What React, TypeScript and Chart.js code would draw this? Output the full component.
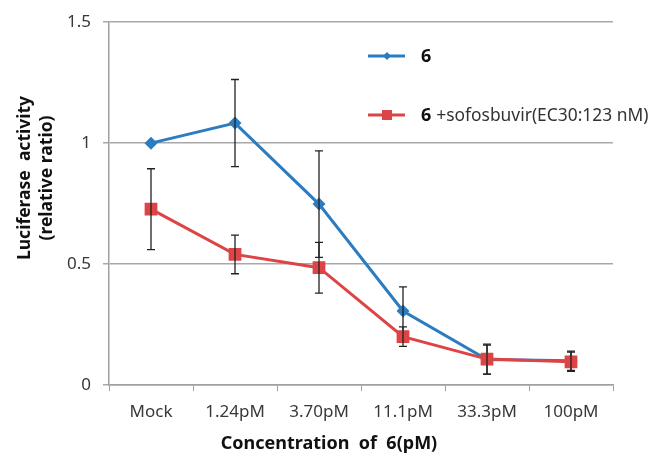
import React, { useEffect, useRef } from "react";
import { Chart, registerables } from "chart.js";

Chart.register(...registerables);

const categories = ["Mock", "1.24pM", "3.70pM", "11.1pM", "33.3pM", "100pM"];
const seriesA = [1.0, 1.083, 0.748, 0.306, 0.105, 0.1];
const errorsA = [0, 0.18, 0.22, 0.1, 0.06, 0.04];
const seriesB = [0.727, 0.54, 0.485, 0.2, 0.107, 0.096];
const errorsB = [0.167, 0.08, 0.105, 0.04, 0.062, 0.04];
const yTicks = [0, 0.5, 1, 1.5];
const labelA = "6";
const labelB = "+sofosbuvir(EC30:123 nM)";
const yTitle = ["Luciferase  activity", "(relative ratio)"];
const xTitle = "Concentration  of  6(pM)";

const BLUE = "#2b7cc0";
const RED = "#dc4446";
const FONT = "'Noto Sans', sans-serif";

const errorPlugin = {
  id: "errbars",
  afterDatasetDraw(chart: any, args: any) {
    const ds = chart.data.datasets[args.index];
    const errs: number[] = ds.errors;
    if (!errs) return;
    const ctx = chart.ctx;
    const x = chart.scales.x;
    const y = chart.scales.y;
    ctx.save();
    ctx.strokeStyle = "#222";
    ctx.lineWidth = 1.3;
    ds.data.forEach((v: number, i: number) => {
      const e = errs[i];
      if (!e) return;
      const px = x.getPixelForValue(i);
      const top = y.getPixelForValue(v + e);
      const bot = y.getPixelForValue(v - e);
      ctx.beginPath();
      ctx.moveTo(px, top);
      ctx.lineTo(px, bot);
      ctx.moveTo(px - 4, top);
      ctx.lineTo(px + 4, top);
      ctx.moveTo(px - 4, bot);
      ctx.lineTo(px + 4, bot);
      ctx.stroke();
    });
    ctx.restore();
  },
};

const textPlugin = {
  id: "texts",
  afterDraw(chart: any) {
    const ctx = chart.ctx;
    ctx.save();
    const drawEntry = (yy: number, color: string, style: string) => {
      ctx.strokeStyle = color;
      ctx.lineWidth = 3;
      ctx.beginPath();
      ctx.moveTo(368, yy);
      ctx.lineTo(405, yy);
      ctx.stroke();
      ctx.fillStyle = color;
      ctx.beginPath();
      if (style === "diamond") {
        ctx.moveTo(387, yy - 4);
        ctx.lineTo(391, yy);
        ctx.lineTo(387, yy + 4);
        ctx.lineTo(383, yy);
      } else {
        ctx.rect(382, yy - 5, 10, 10);
      }
      ctx.closePath();
      ctx.fill();
    };
    drawEntry(56, BLUE, "diamond");
    drawEntry(115, RED, "rect");
    ctx.fillStyle = "#111";
    ctx.textBaseline = "middle";
    ctx.textAlign = "left";
    ctx.font = `bold 18px ${FONT}`;
    ctx.fillText(labelA, 421, 57);
    ctx.fillText(labelA, 421, 116);
    const w = ctx.measureText(labelA).width;
    ctx.fillStyle = "#333";
    ctx.font = `17.4px ${FONT}`;
    ctx.fillText(labelB, 421 + w + 5, 116);
    ctx.fillStyle = "#111";
    ctx.font = `bold 18px ${FONT}`;
    ctx.textAlign = "center";
    ctx.fillText(xTitle, 329, 444);
    ctx.save();
    ctx.translate(25, 178);
    ctx.rotate(-Math.PI / 2);
    ctx.font = `bold 17.5px ${FONT}`;
    ctx.fillText(yTitle[0], 0, 0);
    ctx.fillText(yTitle[1], 0, 22);
    ctx.restore();
    ctx.restore();
  },
};

export default function App() {
  const ref = useRef<HTMLCanvasElement>(null);
  useEffect(() => {
    const chart = new Chart(ref.current!, {
      type: "line",
      data: {
        labels: categories,
        datasets: [
          {
            label: labelA,
            data: seriesA,
            errors: errorsA,
            borderColor: BLUE,
            backgroundColor: BLUE,
            borderWidth: 3,
            pointStyle: "rectRot",
            pointRadius: 6.5,
            pointBorderWidth: 0,
            order: 2,
            tension: 0,
          } as any,
          {
            label: labelB,
            data: seriesB,
            errors: errorsB,
            borderColor: RED,
            backgroundColor: RED,
            borderWidth: 3,
            pointStyle: "rect",
            pointRadius: 9,
            pointBorderWidth: 0,
            order: 1,
            tension: 0,
          } as any,
        ],
      },
      options: {
        animation: false,
        responsive: false,
        layout: { padding: { top: 22, right: 39, left: 0, bottom: 0 } },
        plugins: { legend: { display: false }, tooltip: { enabled: false } },
        scales: {
          x: {
            offset: true,
            grid: { drawOnChartArea: false, offset: true, tickLength: 6, color: "#a0a0a0" },
            border: { color: "#a0a0a0", width: 1.5 },
            ticks: { color: "#383838", font: { family: FONT, size: 17 }, padding: 11 },
            afterFit(s: any) {
              s.height = 70;
            },
          },
          y: {
            min: 0,
            max: 1.5,
            afterBuildTicks(s: any) {
              s.ticks = yTicks.map((v) => ({ value: v }));
            },
            grid: { color: "#a8a8a8", lineWidth: 1.5, tickLength: 6 },
            border: { color: "#a0a0a0", width: 1.5 },
            ticks: {
              color: "#383838",
              font: { family: FONT, size: 17 },
              padding: 12,
              callback: (v: any) => String(v),
            },
            afterFit(s: any) {
              s.width = 109;
            },
          },
        },
      } as any,
      plugins: [errorPlugin, textPlugin],
    });
    return () => chart.destroy();
  }, []);
  return (
    <div style={{ position: "absolute", left: 0, top: 0, width: 652, height: 455, background: "#fff" }}>
      <canvas ref={ref} width={652} height={455} />
    </div>
  );
}
